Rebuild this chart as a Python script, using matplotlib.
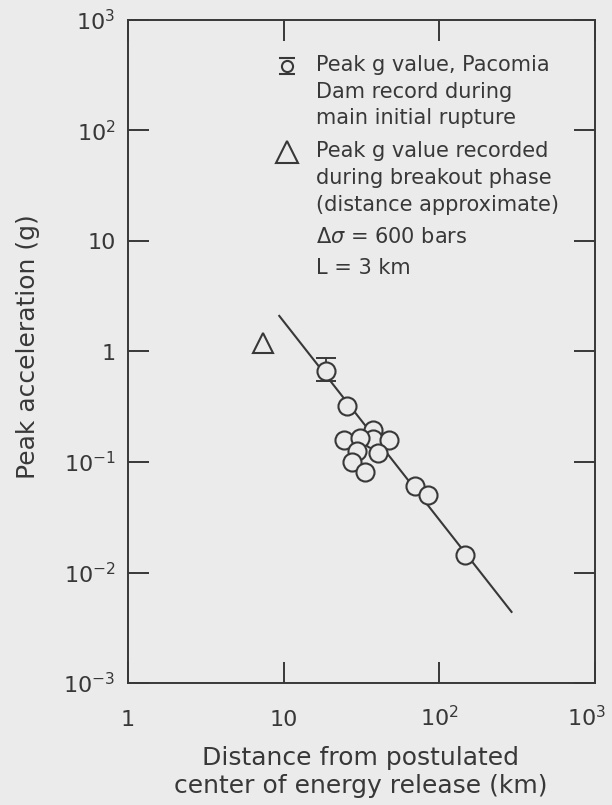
import matplotlib
matplotlib.use("Agg")
import matplotlib.pyplot as plt
from matplotlib.transforms import ScaledTranslation

# Pacoima Dam record during the main initial rupture (with its range)
pacoima_dist = [18.7]
pacoima_g = [0.67]
pacoima_g_low = [0.545]
pacoima_g_high = [0.87]

# other recorded peak accelerations
station_dist = [25.6, 24.5, 37.6, 37.3, 47.7, 30.9, 29.7, 40.5, 27.3, 33.3, 69.7, 84.9, 146.0]
station_g = [0.32, 0.159, 0.193, 0.162, 0.159, 0.164, 0.126, 0.120, 0.101, 0.082, 0.061, 0.050, 0.0145]

# peak recorded during the breakout phase
breakout_dist = [7.4]
breakout_g = [1.2]

# attenuation line (delta sigma = 600 bars, L = 3 km)
fit_dist = [9.37, 291.0]
fit_g = [2.1, 0.0044]

x_ticks = [1, 10, 100, 1000]
x_labels = ["1", "10", r"$\mathregular{10^2}$", r"$\mathregular{10^3}$"]
y_ticks = [1e-3, 1e-2, 1e-1, 1, 10, 100, 1000]
y_labels = [r"$\mathregular{10^{-3}}$", r"$\mathregular{10^{-2}}$", r"$\mathregular{10^{-1}}$",
            "1", "10", r"$\mathregular{10^2}$", r"$\mathregular{10^3}$"]

legend_lines = [
    "Peak g value, Pacomia",
    "Dam record during",
    "main initial rupture",
    "Peak g value recorded",
    "during breakout phase",
    "(distance approximate)",
    r"$\Delta\sigma$ = 600 bars",
    "L = 3 km",
]

BG = "#ebebeb"
INK = "#383838"

plt.rcParams["font.family"] = ["DejaVu Sans"]
plt.rcParams["mathtext.fontset"] = "dejavusans"

fig = plt.figure(figsize=(6.12, 8.05), dpi=100, facecolor=BG)
ax = fig.add_axes([128 / 612, 1 - 683 / 805, 467 / 612, 663 / 805])
ax.set_facecolor(BG)
ax.set_xscale("log")
ax.set_yscale("log")
ax.set_xlim(1, 1000)
ax.set_ylim(1e-3, 1e3)

for s in ax.spines.values():
    s.set_color(INK)
    s.set_linewidth(1.4)

ax.set_xticks(x_ticks, labels=x_labels)
ax.set_yticks(y_ticks, labels=y_labels)
ax.minorticks_off()
ax.tick_params(axis="both", which="major", direction="in", length=15, width=1.4,
               color=INK, labelcolor=INK, labelsize=16)
ax.tick_params(axis="x", top=True, pad=31)
ax.tick_params(axis="y", right=True, pad=9)
for lbl in ax.get_xticklabels():
    lbl.set_verticalalignment("baseline")
# keep the last x label inside the figure
last = ax.xaxis.get_major_ticks()[-1].label1
last.set_transform(last.get_transform() + ScaledTranslation(-8 / 100, 0, fig.dpi_scale_trans))

ax.plot(fit_dist, fit_g, color=INK, lw=1.5, zorder=2)

ax.errorbar(pacoima_dist, pacoima_g,
            yerr=[[pacoima_g[0] - pacoima_g_low[0]], [pacoima_g_high[0] - pacoima_g[0]]],
            fmt="none", ecolor=INK, elinewidth=1.3, capsize=7, capthick=1.4, zorder=3)
ax.plot(pacoima_dist, pacoima_g, "o", ms=13, mfc=BG, mec=INK, mew=1.5, zorder=4)
ax.plot(station_dist, station_g, "o", ms=13, mfc=BG, mec=INK, mew=1.5, zorder=4)
ax.plot(breakout_dist, breakout_g, "^", ms=15, mfc="none", mec=INK, mew=1.5, zorder=4)

# key
tr = ax.transAxes
ax.plot([0.340], [0.931], "o", ms=8, mfc=BG, mec=INK, mew=1.5, transform=tr, clip_on=False)
ax.plot([0.340, 0.340], [0.943, 0.919], "_", ms=11, mec=INK, mew=1.5, transform=tr, clip_on=False)
ax.plot([0.340], [0.801], "^", ms=16, mfc="none", mec=INK, mew=1.5, transform=tr, clip_on=False)

line_px = [65, 91.7, 118.3, 150.7, 178.3, 205, 237.3, 268.3]
for txt, py in zip(legend_lines, line_px):
    ax.text(0.402, (683 - py) / 663, txt, transform=tr, ha="left", va="center",
            fontsize=15, color=INK)

fig.text(28 / 612, 1 - 347 / 805, "Peak acceleration (g)", rotation=90,
         ha="center", va="center", fontsize=18, color=INK)
fig.text(361 / 612, 1 - 772 / 805, "Distance from postulated\ncenter of energy release (km)",
         ha="center", va="center", multialignment="center", linespacing=1.2,
         fontsize=18, color=INK)

fig.savefig("out.png", dpi=100, facecolor=BG)
